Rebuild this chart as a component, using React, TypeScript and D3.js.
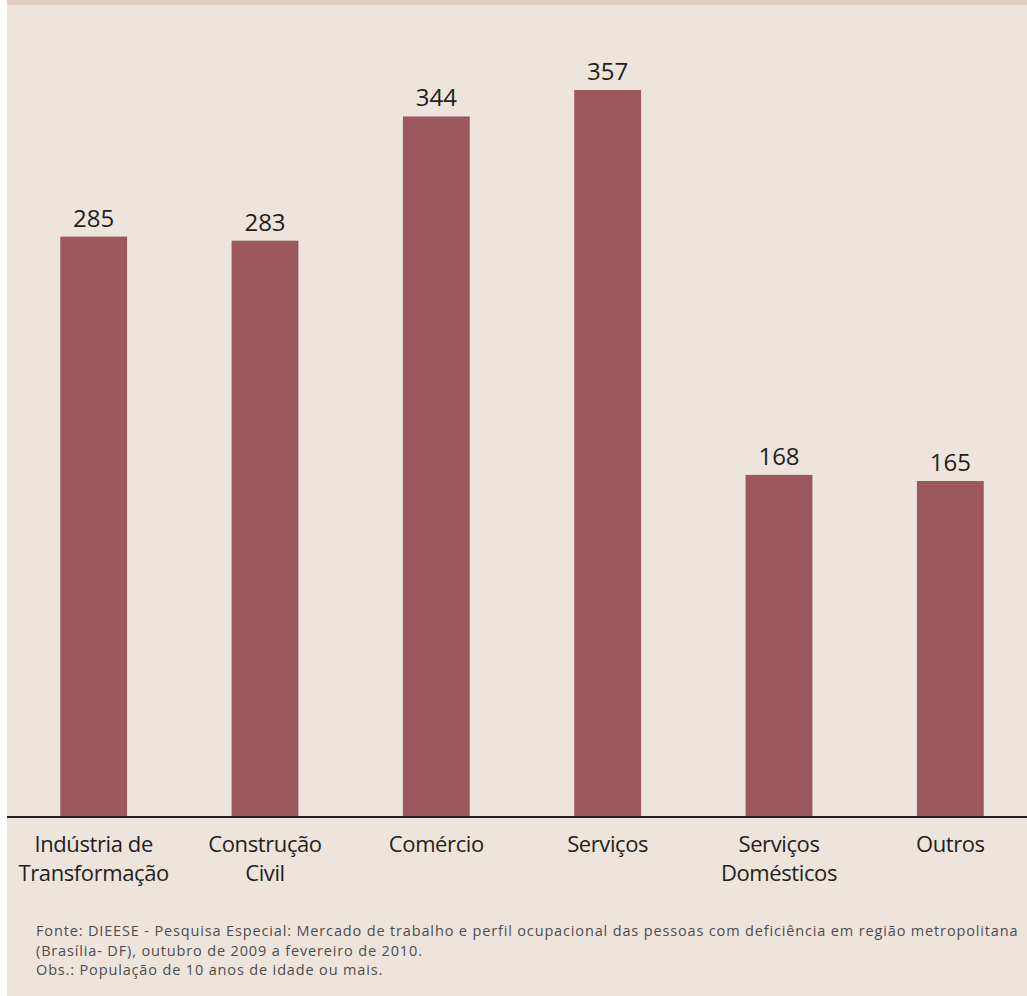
import React from "react";
import * as d3 from "d3";

const categories: string[][] = [
  ["Indústria de", "Transformação"],
  ["Construção", "Civil"],
  ["Comércio"],
  ["Serviços"],
  ["Serviços", "Domésticos"],
  ["Outros"],
];
const values: number[] = [285, 283, 344, 357, 168, 165];
const footerLines: string[] = [
  "Fonte: DIEESE - Pesquisa Especial: Mercado de trabalho e perfil ocupacional das pessoas com deficiência em região metropolitana",
  "(Brasília- DF), outubro de 2009 a fevereiro de 2010.",
  "Obs.: População de 10 anos de idade ou mais.",
];

const W = 1027;
const H = 996;
const FONT = "'Open Sans', 'Noto Sans', sans-serif";

export default function App() {
  const ids = categories.map((_, i) => String(i));
  const x = d3
    .scaleBand<string>()
    .domain(ids)
    .range([8, 1036])
    .paddingInner(0.61)
    .paddingOuter(0.305);
  const baseline = 817;
  const y = d3.scaleLinear().domain([0, 357]).range([baseline, 90]);

  return (
    <svg
      width={W}
      height={H}
      style={{ position: "absolute", left: 0, top: 0, display: "block" }}
      fontFamily={FONT}
    >
      <rect x={0} y={0} width={W} height={H} fill="#ffffff" />
      <rect x={7} y={0} width={W - 7} height={H} fill="#ede4dc" />
      <rect x={7} y={0} width={W - 7} height={5} fill="#dfcdbf" />
      {values.map((v, i) => (
        <g key={i}>
          <rect
            x={x(ids[i])!}
            y={y(v)}
            width={x.bandwidth()}
            height={baseline - y(v)}
            fill="#9d585d"
          />
          <text
            x={x(ids[i])! + x.bandwidth() / 2}
            y={y(v) - 10}
            textAnchor="middle"
            fontSize={24}
            fill="#231f20"
          >
            {v}
          </text>
          {categories[i].map((line, j) => (
            <text
              key={j}
              x={x(ids[i])! + x.bandwidth() / 2}
              y={852 + j * 29}
              textAnchor="middle"
              fontSize={22}
              letterSpacing={-0.4}
              fill="#231f20"
            >
              {line}
            </text>
          ))}
        </g>
      ))}
      <line x1={7} x2={W} y1={baseline} y2={baseline} stroke="#231f20" strokeWidth={2} />
      {footerLines.map((t, i) => (
        <text
          key={i}
          x={36}
          y={936 + i * 19.5}
          fontSize={14.5}
          letterSpacing={0.85}
          fill="#4d4d4f"
        >
          {t}
        </text>
      ))}
    </svg>
  );
}
